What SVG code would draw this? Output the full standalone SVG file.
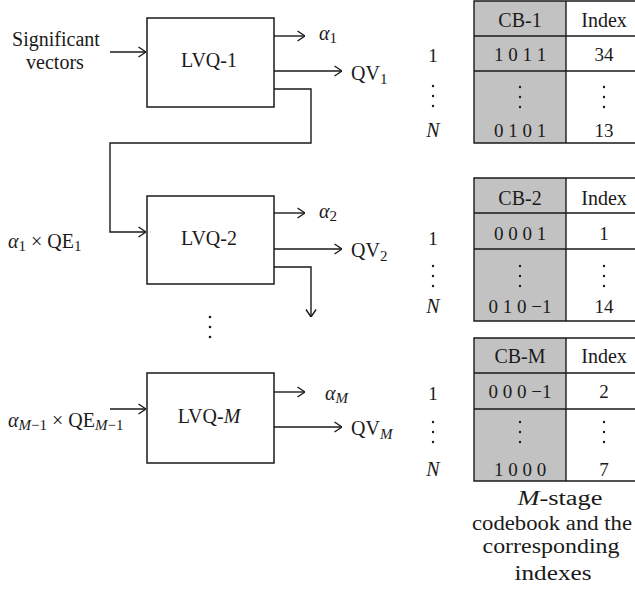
<svg xmlns="http://www.w3.org/2000/svg" width="635" height="596" viewBox="0 0 635 596">
  <style>
    text { font-family: "Liberation Serif", "DejaVu Serif", serif; font-size: 20px; fill: #1a1a1a; }
    .c { text-anchor: middle; }
    .i { font-style: italic; }
    .n { font-style: normal; }
    .sub { font-size: 15px; }
    .num { font-size: 19px; }
    .cap { font-size: 20px; }
    .box { fill: #ffffff; stroke: #1a1a1a; stroke-width: 1.5; }
    .wire { fill: none; stroke: #1a1a1a; stroke-width: 1.4; }
    .gray { fill: #c2c2c2; stroke: none; }
    .grid { fill: none; stroke: #1a1a1a; stroke-width: 1.4; }
    .dot { fill: #1a1a1a; }
  </style>
  <defs>
    <marker id="arrow" viewBox="0 0 10 12" refX="10" refY="6" markerWidth="10" markerHeight="12" markerUnits="userSpaceOnUse" orient="auto">
      <path d="M2.5,1 L10,6 L2.5,11" fill="none" stroke="#1a1a1a" stroke-width="1.4"/>
    </marker>
  </defs>

  <!-- input label -->
  <g id="input-label">
    <text class="c" x="56" y="46">Significant</text>
    <text class="c" x="55" y="69">vectors</text>
  </g>

  <!-- quantizer stages -->
  <g id="lvq1">
    <rect class="box" x="147" y="18" width="127" height="89"/>
    <text class="c" x="209" y="67">LVQ-1</text>
  </g>
  <g id="lvq2">
    <rect class="box" x="147" y="196" width="127" height="88"/>
    <text class="c" x="209" y="245">LVQ-2</text>
  </g>
  <g id="lvqM">
    <rect class="box" x="147" y="373" width="127" height="90"/>
    <text class="c" x="209" y="423">LVQ-<tspan class="i">M</tspan></text>
  </g>

  <!-- stage outputs -->
  <g id="out-labels">
    <text class="i" x="319" y="40">α<tspan class="sub n" dy="3">1</tspan></text>
    <text x="351" y="80">QV<tspan class="sub" dy="4">1</tspan></text>
    <text class="i" x="319" y="218">α<tspan class="sub n" dy="3">2</tspan></text>
    <text x="351" y="257">QV<tspan class="sub" dy="4">2</tspan></text>
    <text class="i" x="325" y="400">α<tspan class="sub" dy="3">M</tspan></text>
    <text x="351" y="435">QV<tspan class="sub i" dy="4">M</tspan></text>
  </g>

  <!-- stage input labels -->
  <g id="in-labels">
    <text x="8" y="248"><tspan class="i">α</tspan><tspan class="sub" dy="3">1</tspan><tspan dy="-3"> × QE</tspan><tspan class="sub" dy="3">1</tspan></text>
    <text x="8" y="427"><tspan class="i">α</tspan><tspan class="sub" dy="3"><tspan class="i">M</tspan>−1</tspan><tspan dy="-3"> × QE</tspan><tspan class="sub" dy="3"><tspan class="i">M</tspan>−1</tspan></text>
  </g>

  <!-- vertical ellipsis between stages -->
  <g id="stage-dots">
    <circle class="dot" cx="210" cy="317" r="1.3"/>
    <circle class="dot" cx="210" cy="327" r="1.3"/>
    <circle class="dot" cx="210" cy="337" r="1.3"/>
  </g>

  <!-- connectors -->
  <g id="connectors">
    <path class="wire" d="M110,52 H146" marker-end="url(#arrow)"/>
    <path class="wire" d="M274,36 H305" marker-end="url(#arrow)"/>
    <path class="wire" d="M274,71 H342" marker-end="url(#arrow)"/>
    <path class="wire" d="M274,89 H311 V143 H110 V232 H146" marker-end="url(#arrow)"/>
    <path class="wire" d="M274,213 H305" marker-end="url(#arrow)"/>
    <path class="wire" d="M274,249 H342" marker-end="url(#arrow)"/>
    <path class="wire" d="M274,267 H311 V317" marker-end="url(#arrow)"/>
    <path class="wire" d="M110,409 H146" marker-end="url(#arrow)"/>
    <path class="wire" d="M274,392 H305" marker-end="url(#arrow)"/>
    <path class="wire" d="M274,427 H342" marker-end="url(#arrow)"/>
  </g>

  <!-- codebook 1 -->
  <g id="cb1">
    <rect class="gray" x="474" y="1" width="92" height="142"/>
    <path class="grid" d="M640,1 H474 V143 H640 M474,36 H640 M474,71 H640 M566,1 V143"/>
    <text class="c" x="520" y="27">CB-1</text>
    <text class="c" x="604" y="27">Index</text>
    <text class="c num" x="520" y="61">1 0 1 1</text>
    <text class="c num" x="604" y="61">34</text>
    <circle class="dot" cx="520" cy="87" r="1.2"/><circle class="dot" cx="520" cy="97" r="1.2"/><circle class="dot" cx="520" cy="107" r="1.2"/>
    <circle class="dot" cx="604" cy="87" r="1.2"/><circle class="dot" cx="604" cy="97" r="1.2"/><circle class="dot" cx="604" cy="107" r="1.2"/>
    <text class="c num" x="520" y="137">0 1 0 1</text>
    <text class="c num" x="604" y="137">13</text>
    <text class="c num" x="433" y="62">1</text>
    <circle class="dot" cx="433" cy="86" r="1.2"/><circle class="dot" cx="433" cy="96" r="1.2"/><circle class="dot" cx="433" cy="106" r="1.2"/>
    <text class="c i" x="433" y="137">N</text>
  </g>

  <!-- codebook 2 -->
  <g id="cb2">
    <rect class="gray" x="474" y="178" width="92" height="143"/>
    <path class="grid" d="M640,178 H474 V321 H640 M474,213 H640 M474,249 H640 M566,178 V321"/>
    <text class="c" x="520" y="205">CB-2</text>
    <text class="c" x="604" y="205">Index</text>
    <text class="c num" x="520" y="240">0 0 0 1</text>
    <text class="c num" x="604" y="240">1</text>
    <circle class="dot" cx="520" cy="266" r="1.2"/><circle class="dot" cx="520" cy="276" r="1.2"/><circle class="dot" cx="520" cy="286" r="1.2"/>
    <circle class="dot" cx="604" cy="266" r="1.2"/><circle class="dot" cx="604" cy="276" r="1.2"/><circle class="dot" cx="604" cy="286" r="1.2"/>
    <text class="c num" x="520" y="313">0 1 0 −1</text>
    <text class="c num" x="604" y="313">14</text>
    <text class="c num" x="433" y="245">1</text>
    <circle class="dot" cx="433" cy="266" r="1.2"/><circle class="dot" cx="433" cy="276" r="1.2"/><circle class="dot" cx="433" cy="286" r="1.2"/>
    <text class="c i" x="433" y="313">N</text>
  </g>

  <!-- codebook M -->
  <g id="cbM">
    <rect class="gray" x="474" y="338" width="92" height="143"/>
    <path class="grid" d="M640,338 H474 V481 H640 M474,373 H640 M474,409 H640 M566,338 V481"/>
    <text class="c" x="520" y="363">CB-M</text>
    <text class="c" x="604" y="363">Index</text>
    <text class="c num" x="520" y="398">0 0 0 −1</text>
    <text class="c num" x="604" y="398">2</text>
    <circle class="dot" cx="520" cy="422" r="1.2"/><circle class="dot" cx="520" cy="432" r="1.2"/><circle class="dot" cx="520" cy="442" r="1.2"/>
    <circle class="dot" cx="604" cy="422" r="1.2"/><circle class="dot" cx="604" cy="432" r="1.2"/><circle class="dot" cx="604" cy="442" r="1.2"/>
    <text class="c num" x="520" y="476">1 0 0 0</text>
    <text class="c num" x="604" y="476">7</text>
    <text class="c num" x="433" y="400">1</text>
    <circle class="dot" cx="433" cy="422" r="1.2"/><circle class="dot" cx="433" cy="432" r="1.2"/><circle class="dot" cx="433" cy="442" r="1.2"/>
    <text class="c i" x="433" y="476">N</text>
  </g>

  <!-- caption -->
  <g id="caption">
    <text class="c cap" x="560" y="505" textLength="85" lengthAdjust="spacingAndGlyphs"><tspan class="i">M</tspan>-stage</text>
    <text class="c cap" x="552" y="530" textLength="160" lengthAdjust="spacingAndGlyphs">codebook and the</text>
    <text class="c cap" x="551" y="553" textLength="137" lengthAdjust="spacingAndGlyphs">corresponding</text>
    <text class="c cap" x="553" y="580" textLength="77" lengthAdjust="spacingAndGlyphs">indexes</text>
  </g>
</svg>
